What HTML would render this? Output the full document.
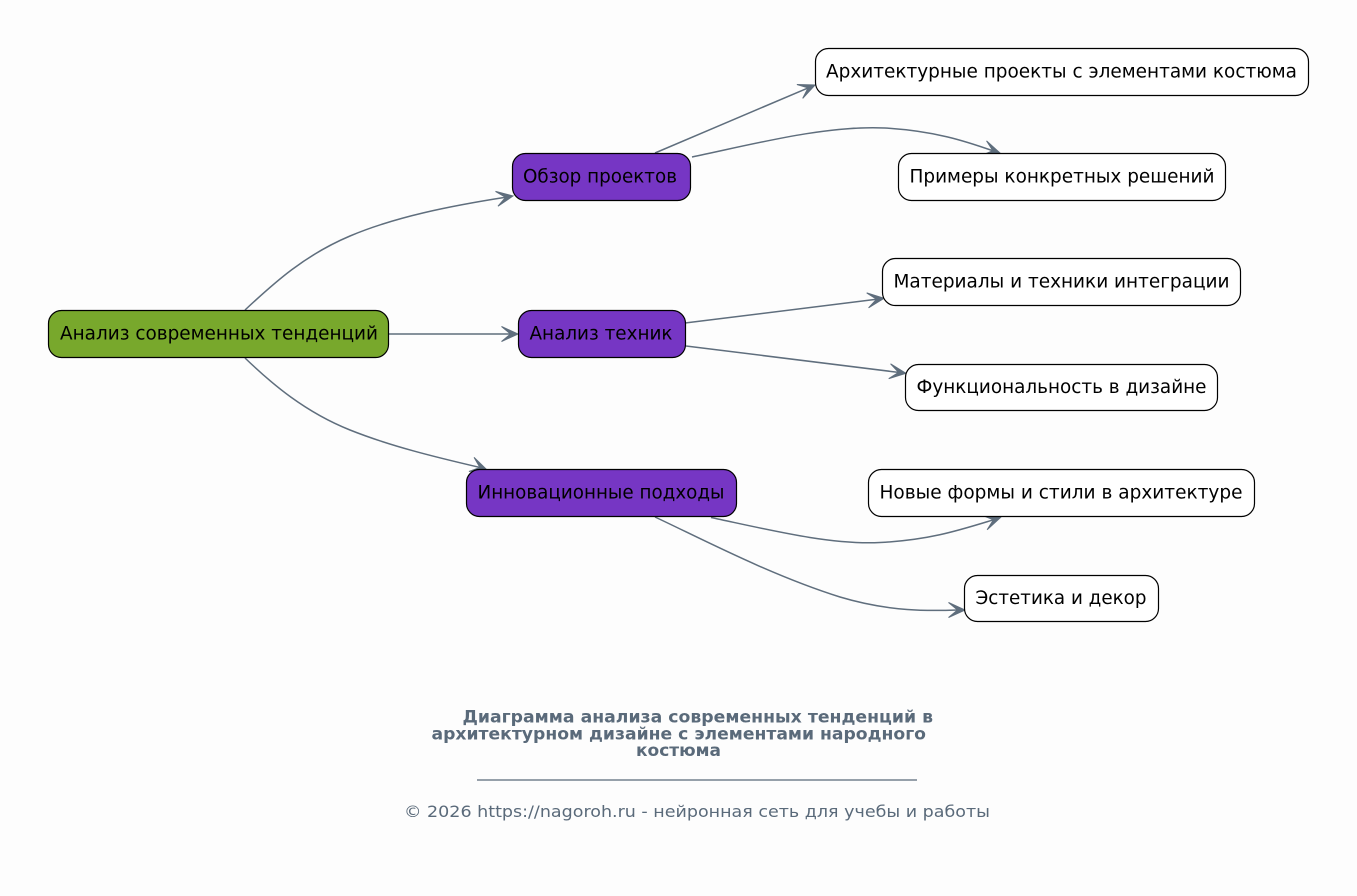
<!DOCTYPE html>
<html>
<head>
<meta charset="utf-8">
<style>
  html, body { margin: 0; padding: 0; background: #fdfdfd; }
  svg { display: block; }
  .n { font-family: "DejaVu Sans", "Liberation Sans", sans-serif; font-size: 18.67px; fill: #000; }
  .t { font-family: "DejaVu Sans", "Liberation Sans", sans-serif; font-size: 16.5px; font-weight: bold; fill: #5a6a7a; }
  .c { font-family: "DejaVu Sans", "Liberation Sans", sans-serif; font-size: 16px; fill: #5a6a7a; }
  .e { fill: none; stroke: #5f6e7d; stroke-width: 1.5; }
  .a { fill: #5f6e7d; stroke: #5f6e7d; stroke-width: 1; stroke-linejoin: miter; }
</style>
</head>
<body>
<svg width="1357" height="896" viewBox="0 0 1357 896" xmlns="http://www.w3.org/2000/svg">
  <rect x="0" y="0" width="1357" height="896" fill="#fdfdfd"/>

  <!-- Edges -->
  <path class="e" d="M245,310 C275,282 305,255 350,236 C395,217 450,206 505.6,197.3"/>
  <polygon class="a" points="513,196 497.97,206.2 505.6,197.3 495.5,191.4"/>

  <path class="e" d="M389,334 L510.5,334"/>
  <polygon class="a" points="518,334 501.5,341.5 510.5,334 501.5,326.5"/>

  <path class="e" d="M245,358 C272,384 305,412 350,430 C390,446 435,457 479.95,467.45"/>
  <polygon class="a" points="487,470 468.95,471.45 479.95,467.45 474.05,457.35"/>

  <path class="e" d="M655,153 L808.1,87.9"/>
  <polygon class="a" points="815,85 802.7,98.35 808.1,87.9 796.9,84.55"/>

  <path class="e" d="M692,157 C750,145 825,125 885,128 C935,131 965,141 992.85,150.75"/>
  <polygon class="a" points="1000,153 982.05,155.2 992.85,150.75 986.55,140.9"/>

  <path class="e" d="M685,323 L876.56,299.23"/>
  <polygon class="a" points="884,298.3 868.56,307.8 876.56,299.23 866.7,292.9"/>

  <path class="e" d="M686,346 L898.56,372.38"/>
  <polygon class="a" points="906,373.3 888.71,378.71 898.56,372.38 890.55,363.83"/>

  <path class="e" d="M711,517.5 C770,530 830,545 880,542.5 C930,540 960,530 993.36,519.83"/>
  <polygon class="a" points="1000.5,517.5 987.13,529.74 993.36,519.83 982.47,515.46"/>

  <path class="e" d="M655,517 C700,538 770,575 840,597 C890,612 930,611 957.5,610"/>
  <polygon class="a" points="965,610 948.5,617.5 957.5,610 948.5,602.5"/>

  <!-- Nodes -->
  <rect x="48.5" y="310.5" width="340" height="47" rx="13" ry="13" fill="#78a82c" stroke="#000" stroke-width="1.2"/>
  <text class="n" x="60" y="339.5" textLength="318" lengthAdjust="spacingAndGlyphs">Анализ современных тенденций</text>

  <rect x="512.5" y="153.5" width="178" height="47" rx="13" ry="13" fill="#7636c4" stroke="#000" stroke-width="1.2"/>
  <text class="n" x="523" y="182.5" textLength="154" lengthAdjust="spacingAndGlyphs">Обзор проектов</text>

  <rect x="518.5" y="310.5" width="167" height="47" rx="13" ry="13" fill="#7636c4" stroke="#000" stroke-width="1.2"/>
  <text class="n" x="529.5" y="339.5" textLength="143" lengthAdjust="spacingAndGlyphs">Анализ техник</text>

  <rect x="466.5" y="469.5" width="270" height="47" rx="13" ry="13" fill="#7636c4" stroke="#000" stroke-width="1.2"/>
  <text class="n" x="477.5" y="498.5" textLength="247" lengthAdjust="spacingAndGlyphs">Инновационные подходы</text>

  <rect x="815.5" y="48.5" width="493" height="47" rx="13" ry="13" fill="#ffffff" stroke="#000" stroke-width="1.2"/>
  <text class="n" x="826" y="77.5" textLength="471" lengthAdjust="spacingAndGlyphs">Архитектурные проекты с элементами костюма</text>

  <rect x="898.5" y="153.5" width="327" height="47" rx="13" ry="13" fill="#ffffff" stroke="#000" stroke-width="1.2"/>
  <text class="n" x="909.5" y="182.5" textLength="305" lengthAdjust="spacingAndGlyphs">Примеры конкретных решений</text>

  <rect x="882.5" y="258.5" width="358" height="47" rx="13" ry="13" fill="#ffffff" stroke="#000" stroke-width="1.2"/>
  <text class="n" x="893.5" y="287.5" textLength="336" lengthAdjust="spacingAndGlyphs">Материалы и техники интеграции</text>

  <rect x="905.5" y="364.5" width="312" height="46" rx="13" ry="13" fill="#ffffff" stroke="#000" stroke-width="1.2"/>
  <text class="n" x="916.5" y="393" textLength="290" lengthAdjust="spacingAndGlyphs">Функциональность в дизайне</text>

  <rect x="868.5" y="469.5" width="386" height="47" rx="13" ry="13" fill="#ffffff" stroke="#000" stroke-width="1.2"/>
  <text class="n" x="879.5" y="498.5" textLength="363" lengthAdjust="spacingAndGlyphs">Новые формы и стили в архитектуре</text>

  <rect x="964.5" y="575.5" width="194" height="46" rx="13" ry="13" fill="#ffffff" stroke="#000" stroke-width="1.2"/>
  <text class="n" x="975.5" y="604" textLength="171" lengthAdjust="spacingAndGlyphs">Эстетика и декор</text>

  <!-- Title -->
  <text class="t" x="462.5" y="722.7" textLength="470.5" lengthAdjust="spacingAndGlyphs">Диаграмма анализа современных тенденций в</text>
  <text class="t" x="431.5" y="739.5" textLength="494.5" lengthAdjust="spacingAndGlyphs">архитектурном дизайне с элементами народного</text>
  <text class="t" x="636" y="756" textLength="85" lengthAdjust="spacingAndGlyphs">костюма</text>

  <line x1="477" y1="780" x2="917" y2="780" stroke="#5a6a7a" stroke-width="1.2"/>

  <text class="c" x="404" y="817" textLength="586" lengthAdjust="spacingAndGlyphs">© 2026 https://nagoroh.ru - нейронная сеть для учебы и работы</text>
</svg>
</body>
</html>
